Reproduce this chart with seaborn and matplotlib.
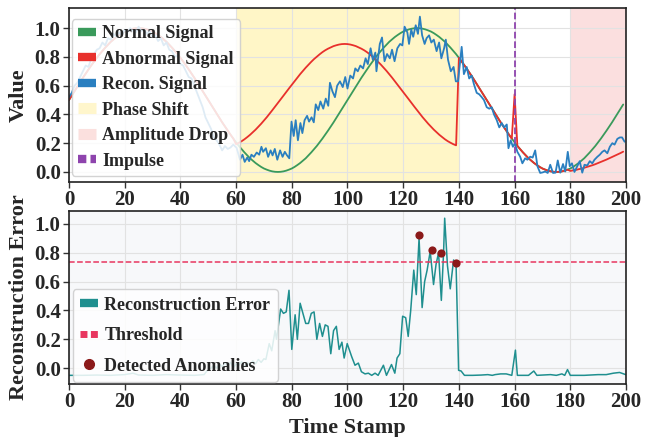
import matplotlib
matplotlib.use("Agg")
import matplotlib.pyplot as plt
import seaborn as sns
from matplotlib.lines import Line2D

# ---------------- data ----------------
time_steps = list(range(200))

normal_signal = [
    0.500, 0.531, 0.563, 0.594, 0.624, 0.655, 0.684, 0.713, 0.741, 0.768,
    0.794, 0.819, 0.842, 0.864, 0.885, 0.905, 0.922, 0.938, 0.952, 0.965,
    0.976, 0.984, 0.991, 0.996, 0.999, 1.000, 0.999, 0.996, 0.991, 0.984,
    0.976, 0.965, 0.952, 0.938, 0.922, 0.905, 0.885, 0.864, 0.842, 0.819,
    0.794, 0.768, 0.741, 0.713, 0.684, 0.655, 0.624, 0.594, 0.563, 0.531,
    0.500, 0.469, 0.437, 0.406, 0.376, 0.345, 0.316, 0.287, 0.259, 0.232,
    0.206, 0.181, 0.158, 0.136, 0.115, 0.095, 0.078, 0.062, 0.048, 0.035,
    0.024, 0.016, 0.009, 0.004, 0.001, 0.000, 0.001, 0.004, 0.009, 0.016,
    0.024, 0.035, 0.048, 0.062, 0.078, 0.095, 0.115, 0.136, 0.158, 0.181,
    0.206, 0.232, 0.259, 0.287, 0.316, 0.345, 0.376, 0.406, 0.437, 0.469,
    0.500, 0.531, 0.563, 0.594, 0.624, 0.655, 0.684, 0.713, 0.741, 0.768,
    0.794, 0.819, 0.842, 0.864, 0.885, 0.905, 0.922, 0.938, 0.952, 0.965,
    0.976, 0.984, 0.991, 0.996, 0.999, 1.000, 0.999, 0.996, 0.991, 0.984,
    0.976, 0.965, 0.952, 0.938, 0.922, 0.905, 0.885, 0.864, 0.842, 0.819,
    0.794, 0.768, 0.741, 0.713, 0.684, 0.655, 0.624, 0.594, 0.563, 0.531,
    0.500, 0.469, 0.437, 0.406, 0.376, 0.345, 0.316, 0.287, 0.259, 0.232,
    0.206, 0.181, 0.158, 0.136, 0.115, 0.095, 0.078, 0.062, 0.048, 0.035,
    0.024, 0.016, 0.009, 0.004, 0.001, 0.000, 0.001, 0.004, 0.009, 0.016,
    0.024, 0.035, 0.048, 0.062, 0.078, 0.095, 0.115, 0.136, 0.158, 0.181,
    0.206, 0.232, 0.259, 0.287, 0.316, 0.345, 0.376, 0.406, 0.437, 0.469,
]

abnormal_signal = [
    0.500, 0.531, 0.563, 0.594, 0.624, 0.655, 0.684, 0.713, 0.741, 0.768,
    0.794, 0.819, 0.842, 0.864, 0.885, 0.905, 0.922, 0.938, 0.952, 0.965,
    0.976, 0.984, 0.991, 0.996, 0.999, 1.000, 0.999, 0.996, 0.991, 0.984,
    0.976, 0.965, 0.952, 0.938, 0.922, 0.905, 0.885, 0.864, 0.842, 0.819,
    0.794, 0.768, 0.741, 0.713, 0.684, 0.655, 0.624, 0.594, 0.563, 0.531,
    0.500, 0.469, 0.437, 0.406, 0.376, 0.345, 0.316, 0.287, 0.259, 0.232,
    0.193, 0.203, 0.214, 0.227, 0.242, 0.258, 0.276, 0.294, 0.314, 0.335,
    0.357, 0.380, 0.404, 0.429, 0.454, 0.479, 0.505, 0.530, 0.556, 0.581,
    0.606, 0.631, 0.656, 0.680, 0.703, 0.725, 0.746, 0.766, 0.785, 0.802,
    0.818, 0.833, 0.846, 0.857, 0.866, 0.875, 0.881, 0.886, 0.889, 0.890,
    0.889, 0.886, 0.881, 0.875, 0.866, 0.857, 0.846, 0.833, 0.818, 0.802,
    0.785, 0.766, 0.746, 0.725, 0.703, 0.680, 0.656, 0.631, 0.606, 0.581,
    0.556, 0.530, 0.505, 0.479, 0.454, 0.429, 0.404, 0.380, 0.357, 0.335,
    0.314, 0.294, 0.276, 0.258, 0.242, 0.227, 0.214, 0.203, 0.193, 0.185,
    0.794, 0.768, 0.741, 0.713, 0.684, 0.655, 0.624, 0.594, 0.563, 0.531,
    0.500, 0.469, 0.437, 0.406, 0.376, 0.345, 0.316, 0.287, 0.259, 0.232,
    0.540, 0.181, 0.158, 0.136, 0.115, 0.095, 0.078, 0.062, 0.048, 0.035,
    0.024, 0.016, 0.009, 0.004, 0.001, 0.000, 0.001, 0.004, 0.009, 0.016,
    0.007, 0.011, 0.014, 0.019, 0.023, 0.029, 0.035, 0.041, 0.047, 0.054,
    0.062, 0.070, 0.078, 0.086, 0.095, 0.104, 0.113, 0.122, 0.131, 0.141,
]

recon_x = [
    0, 1, 2, 3, 4, 5, 6, 7, 8, 9, 10, 11, 12, 13, 14, 15, 16, 17, 18, 19,
    20, 21, 22, 23, 24, 25, 26, 27, 28, 29, 30, 31, 32, 33, 34, 35, 36, 37, 38, 39,
    40, 41, 42, 43, 44, 45, 46, 47, 48, 49, 50, 51, 52, 53, 54, 55, 56, 57, 58, 59,
    60.2, 61.4, 62.3, 63.1, 64.0, 64.7, 65.5, 66.4, 67.4, 68.3, 69.1, 69.7, 70.7,
    71.5, 72.4, 73.1, 73.9, 74.8, 75.8, 76.7, 77.5, 78.3, 79.1, 79.9, 80.7, 81.4,
    82.2, 83.1, 83.8, 84.6, 85.5, 86.2, 87.1, 87.9, 88.6, 89.5, 90.3, 91.3, 92.2,
    93.1, 93.7, 94.6, 95.5, 96.3, 97.3, 98.3, 99.2, 100.0, 101.0, 102.0, 102.8,
    103.7, 104.6, 105.6, 106.5, 107.3, 108.3, 109.1, 110.0, 110.4, 111.6, 112.4,
    113.3, 114.2, 115.2, 116.0, 116.9, 117.9, 118.9, 119.7, 120.5, 121.5, 122.1,
    122.9, 123.6, 124.5, 125.3, 126.0, 126.8, 127.7, 128.4, 129.3, 130.1, 131.0,
    132.0, 132.9, 133.7, 134.7, 135.3, 136.1, 137.1, 138.1, 138.9, 139.7, 141.0,
    141.8, 142.8, 143.7, 144.6, 145.4, 146.4, 147.3, 148.2, 149.0, 150.0, 150.9,
    151.8, 152.6, 153.6, 154.5, 155.4, 156.2, 157.2, 157.8, 158.6, 159.4, 160.1,
    161.0, 162.0, 162.8, 163.8, 164.6, 165.6, 166.5, 167.4, 168.2, 169.2, 170.1,
    171.0, 171.9, 172.8, 173.8, 174.7, 175.5, 176.4, 177.4, 178.2, 179.1, 179.8,
    180.6, 181.5, 182.5, 183.4, 184.3, 185.1, 186.1, 187.0, 187.9, 188.7, 189.7,
    190.6, 191.5, 192.3, 193.3, 194.2, 195.1, 195.9, 196.9, 197.8, 198.6, 199.5,
]
recon_y = [
    0.52, 0.55, 0.60, 0.62, 0.66, 0.70, 0.74, 0.73, 0.79, 0.82, 0.85, 0.86, 0.90, 0.88, 0.93, 0.92, 0.96, 0.94, 0.97, 0.95,
    0.99, 0.97, 1.00, 0.98, 0.97, 1.01, 0.98, 0.99, 0.96, 0.98, 0.94, 0.95, 0.91, 0.93, 0.88, 0.90, 0.85, 0.84, 0.80, 0.81,
    0.75, 0.74, 0.70, 0.66, 0.65, 0.60, 0.55, 0.50, 0.45, 0.38, 0.34, 0.30, 0.24, 0.22, 0.19, 0.15, 0.18, 0.16, 0.17, 0.19,
    0.167, 0.085, 0.12, 0.07, 0.10, 0.075, 0.12, 0.105, 0.135, 0.12, 0.175, 0.14, 0.165,
    0.105, 0.15, 0.115, 0.16, 0.085, 0.15, 0.105, 0.14, 0.115, 0.095, 0.35, 0.25, 0.36,
    0.22, 0.34, 0.27, 0.36, 0.39, 0.35, 0.38, 0.345, 0.47, 0.43, 0.49, 0.44, 0.51,
    0.46, 0.62, 0.56, 0.52, 0.60, 0.63, 0.59, 0.66, 0.58, 0.67, 0.65, 0.72,
    0.70, 0.74, 0.72, 0.79, 0.75, 0.86, 0.78, 0.83, 0.70, 0.89, 0.935,
    0.77, 0.82, 0.79, 0.85, 0.77, 0.86, 0.89, 0.88, 1.01, 0.97, 0.89,
    0.99, 0.94, 1.02, 0.96, 1.08, 0.95, 0.89, 0.93, 0.95, 0.90, 0.92,
    0.84, 0.90, 0.79, 0.86, 0.92, 0.78, 0.70, 0.73, 0.63, 0.63, 0.87,
    0.68, 0.73, 0.65, 0.67, 0.61, 0.55, 0.54, 0.52, 0.50, 0.45, 0.44,
    0.45, 0.40, 0.36, 0.31, 0.34, 0.31, 0.33, 0.165, 0.22, 0.175, 0.20,
    0.14, 0.106, 0.06, 0.095, 0.085, 0.106, 0.10, 0.15, 0.04, -0.007, -0.003,
    0.003, -0.007, 0.05, -0.007, -0.005, 0.08, -0.005, 0.055, 0.003, 0.14, 0.04,
    0.06, 0.0, 0.04, 0.075, -0.005, 0.05, 0.045, 0.075, 0.06, 0.085, 0.105,
    0.12, 0.14, 0.15, 0.13, 0.175, 0.20, 0.19, 0.23, 0.24, 0.24, 0.21,
]

error_x = [
    0, 5, 10, 15, 20, 23, 25, 30, 35, 40, 45, 48.5, 49.5, 51, 52, 53, 54, 55, 56,
    57, 58, 59, 60, 61, 62, 63, 64, 65, 66, 67, 68, 69, 70, 70.7, 71.9, 72.8, 74,
    74.5, 76, 77, 78, 79, 80, 81.2, 82, 83, 84, 85, 86, 87, 88, 89, 90, 91, 92,
    93, 94, 95, 96, 97, 98, 98.8, 99.9, 101.5, 102.7, 103.9, 105, 106.3, 107.5,
    108.7, 109.9, 111, 112.9, 114, 115.8, 117, 117.8, 118.8, 119.8, 120.9, 121.8,
    122.7, 123.8, 124.7, 125.7, 126.8, 127.7, 128.6, 129.7, 130.9, 131.8, 132.7,
    133.7, 134.5, 134.9, 135.9, 136.9, 138.1, 139.0, 139.9, 140.8, 142, 145, 148,
    150.4, 152, 153, 155, 157, 159, 160.3, 161, 165, 166.9, 168, 172.9, 175, 177,
    178, 179, 180, 185, 190, 192.9, 195.5, 197.7, 199.9,
]
error_y = [
    -0.05, -0.05, -0.048, -0.05, -0.045, -0.035, -0.048, -0.05, -0.045, -0.048,
    -0.05, -0.045, -0.02, 0.0, 0.02, 0.0, 0.03, 0.01, 0.035,
    0.02, 0.04, 0.0, 0.03, 0.02, 0.045, 0.01, 0.04, 0.02, 0.05, 0.03, 0.06, 0.04,
    0.065, 0.06, 0.17, 0.12, 0.26,
    0.20, 0.41, 0.38, 0.39, 0.54, 0.13, 0.37, 0.20, 0.45, 0.38, 0.31, 0.31, 0.38,
    0.39, 0.20, 0.31, 0.22, 0.30,
    0.29, 0.10, 0.26, 0.29, 0.13, 0.18, 0.07, 0.17, 0.08, 0.02, 0.035, -0.025,
    -0.04, -0.035,
    -0.05, -0.035, -0.05, 0.02, -0.05, 0.025, -0.035, 0.07, 0.10, 0.36, 0.35, 0.22,
    0.40, 0.68, 0.51, 0.90, 0.42, 0.60, 0.68, 0.81, 0.58, 0.72, 0.80,
    0.47, 0.80, 1.04, 0.71, 0.55, 0.75, 0.71, -0.015, -0.02, -0.05, -0.05, -0.048,
    -0.045, -0.05, -0.045, -0.04, -0.04, -0.05, 0.125, -0.05, -0.05, -0.02, -0.05,
    -0.045, -0.05, -0.04,
    -0.05, -0.01, -0.05, -0.05, -0.045, -0.045, -0.035, -0.03, -0.045,
]

anomaly_x = [125.8, 130.2, 133.6, 139.0]
anomaly_y = [0.92, 0.82, 0.80, 0.728]
threshold = 0.735

phase_shift_range = (60, 140)
amplitude_drop_range = (180, 200)
impulse_x = 160

x_ticks = list(range(0, 201, 20))
y_ticks = [0.0, 0.2, 0.4, 0.6, 0.8, 1.0]

# ---------------- style ----------------
sns.set_theme(style="whitegrid")
plt.rcParams['font.family'] = ['Liberation Serif', 'DejaVu Serif']
plt.rcParams['font.weight'] = 'bold'
plt.rcParams['axes.labelweight'] = 'bold'

C_NORMAL = '#3a9a5b'
C_ABN = '#e8302c'
C_RECON = '#2a7fc0'
C_PHASE = '#fff6cc'
C_AMP = '#fbe0de'
C_IMP = '#8e44ad'
C_ERR = '#1f8f8f'
C_THR = '#e8365f'
C_DOT = '#8b1a1a'

fig = plt.figure(figsize=(6.52, 4.37), dpi=100)
ax1 = fig.add_axes([0.1058, 0.5835, 0.8543, 0.3982])
ax2 = fig.add_axes([0.1058, 0.1213, 0.8543, 0.3959])

# ---------- top panel ----------
ax1.set_facecolor('white')
ax1.axvspan(*phase_shift_range, color='gold', alpha=0.22, lw=0, zorder=0)
ax1.axvspan(*amplitude_drop_range, color='lightcoral', alpha=0.25, lw=0, zorder=0)
sns.lineplot(x=time_steps, y=normal_signal, ax=ax1, color=C_NORMAL, lw=1.3,
             estimator=None, sort=False)
sns.lineplot(x=time_steps, y=abnormal_signal, ax=ax1, color=C_ABN, lw=1.3,
             estimator=None, sort=False)
sns.lineplot(x=recon_x, y=recon_y, ax=ax1, color=C_RECON, lw=1.3,
             estimator=None, sort=False)
ax1.axvline(impulse_x, color=C_IMP, ls='--', lw=1.3)

ax1.set_xlim(0, 200)
ax1.set_ylim(-0.07, 1.14)
ax1.set_xticks(x_ticks)
ax1.set_yticks(y_ticks)
ax1.set_xlabel('')
ax1.set_ylabel('Value', fontsize=16, fontweight='bold')
ax1.yaxis.set_label_coords(-0.072, 0.5)

h1 = [
    Line2D([], [], color=C_NORMAL, lw=6, solid_capstyle='butt'),
    Line2D([], [], color=C_ABN, lw=6, solid_capstyle='butt'),
    Line2D([], [], color=C_RECON, lw=6, solid_capstyle='butt'),
    Line2D([], [], color=C_PHASE, lw=8, solid_capstyle='butt'),
    Line2D([], [], color=C_AMP, lw=8, solid_capstyle='butt'),
    Line2D([], [], color=C_IMP, lw=6, ls=(0, (1, 0.5)), dash_capstyle='butt'),
]
l1 = ['Normal Signal', 'Abnormal Signal', 'Recon. Signal', 'Phase Shift',
      'Amplitude Drop', 'Impulse']
leg1 = ax1.legend(h1, l1, loc='upper left', bbox_to_anchor=(0.005, 0.937),
                  borderaxespad=0, handlelength=1.0, handletextpad=0.35,
                  prop={'size': 13, 'weight': 'bold'}, framealpha=0.85,
                  edgecolor='#cccccc', labelspacing=0.47, borderpad=0.35)

# ---------- bottom panel ----------
ax2.set_facecolor('#f7f8fa')
sns.lineplot(x=error_x, y=error_y, ax=ax2, color=C_ERR, lw=1.1,
             estimator=None, sort=False)
ax2.axhline(threshold, color=C_THR, ls='--', lw=1.1)
sns.scatterplot(x=anomaly_x, y=anomaly_y, ax=ax2, color=C_DOT, s=35,
                edgecolor=C_DOT, linewidth=0, zorder=5)

ax2.set_xlim(0, 200)
ax2.set_ylim(-0.11, 1.09)
ax2.set_xticks(x_ticks)
ax2.set_yticks(y_ticks)
ax2.set_xlabel('Time Stamp', fontsize=16, fontweight='bold', labelpad=4)
ax2.set_ylabel('Reconstruction Error', fontsize=16, fontweight='bold')
ax2.yaxis.set_label_coords(-0.072, 0.5)

h2 = [
    Line2D([], [], color=C_ERR, lw=6, solid_capstyle='butt'),
    Line2D([], [], color=C_THR, lw=5, ls=(0, (1, 0.5)), dash_capstyle='butt'),
    Line2D([], [], color=C_DOT, marker='o', ls='none', markersize=7),
]
l2 = ['Reconstruction Error', 'Threshold', 'Detected Anomalies']
leg2 = ax2.legend(h2, l2, loc='lower left', bbox_to_anchor=(0.007, 0.012),
                  borderaxespad=0, handlelength=1.0, handletextpad=0.35,
                  prop={'size': 13, 'weight': 'bold'}, framealpha=0.85,
                  edgecolor='#cccccc', labelspacing=0.75, borderpad=0.4)

for ax in (ax1, ax2):
    ax.grid(True, color='#e2e2e2', lw=0.8)
    ax.tick_params(axis='both', labelsize=15, length=4, width=1,
                   color='#333333', direction='out', bottom=True, left=True,
                   pad=2)
    for s in ax.spines.values():
        s.set_color('#222222')
        s.set_linewidth(1.2)
    for lab in ax.get_xticklabels() + ax.get_yticklabels():
        lab.set_fontweight('bold')

fig.savefig('out.png', dpi=100)
